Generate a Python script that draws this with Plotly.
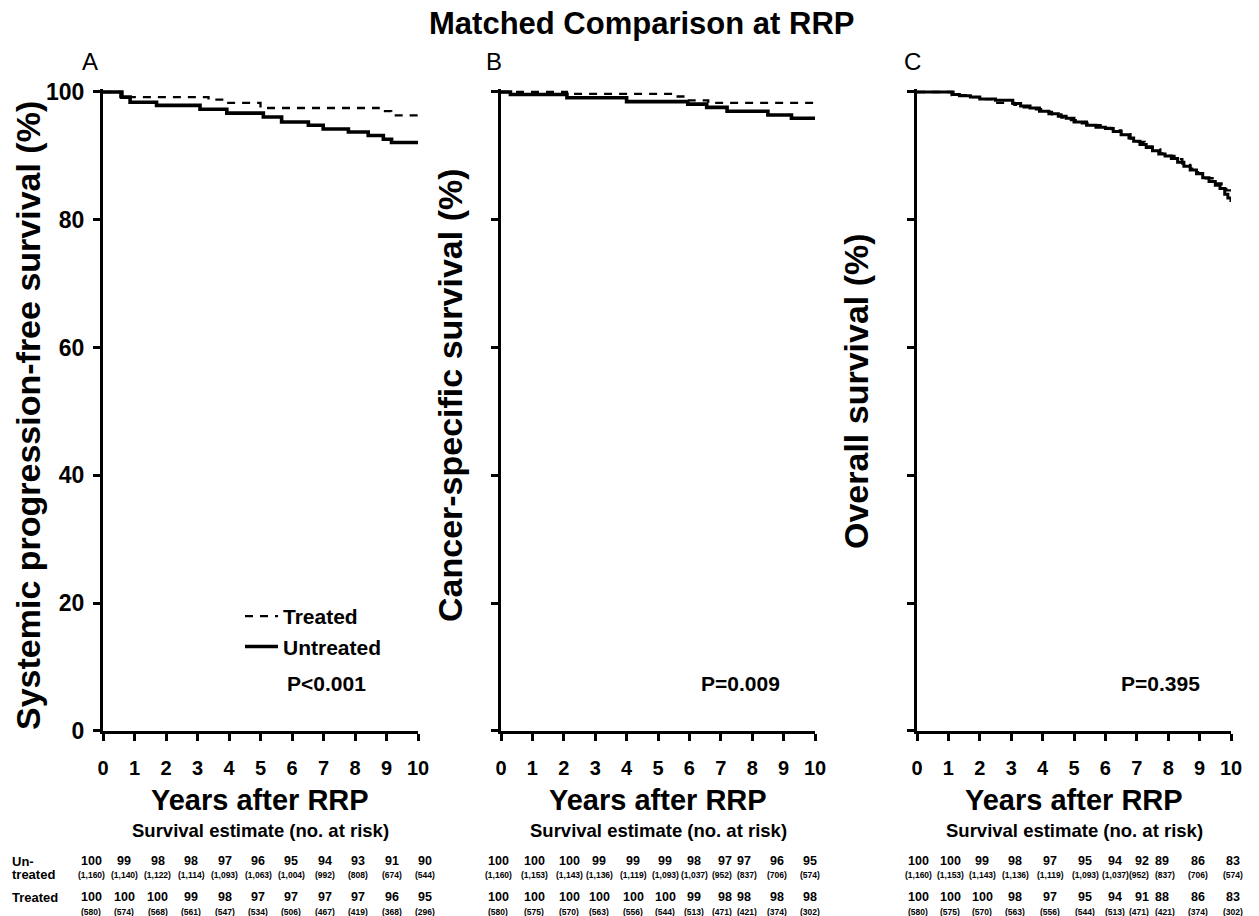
import plotly.graph_objects as go

# ---------------- data ----------------
# Panel A: systemic progression-free survival
A_T_time = [0, 0.55, 3.35, 3.85, 5.0, 8.75, 9.15, 10]
A_T_surv = [100, 99.2, 98.8, 98.3, 97.5, 97.0, 96.35, 96.35]
A_U_time = [0, 0.6, 0.86, 1.7, 3.08, 3.93, 5.09, 5.67, 6.52, 6.99, 7.79, 8.42, 8.9, 9.16, 10]
A_U_surv = [100, 99.2, 98.4, 97.9, 97.3, 96.7, 96.1, 95.3, 94.8, 94.2, 93.75, 93.2, 92.6, 92.1, 92.1]

# Panel B: cancer-specific survival
B_T_time = [0, 2.1, 5.5, 5.95, 6.6, 10]
B_T_surv = [100, 99.7, 99.3, 98.7, 98.3, 98.3]
B_U_time = [0, 0.3, 2.1, 4.0, 5.95, 6.55, 7.2, 8.5, 9.25, 10]
B_U_surv = [100, 99.6, 99.1, 98.5, 98.1, 97.6, 97.0, 96.4, 95.9, 95.9]

# Panel C: overall survival
C_U_time = [0, 1.15, 1.35, 1.7, 2.0, 2.5, 3.05, 3.3, 3.6, 3.9, 4.2, 4.5, 4.75, 5.0, 5.4,
            5.7, 6.0, 6.25, 6.5, 6.75, 6.9, 7.1, 7.3, 7.5, 7.7, 7.9, 8.1, 8.3, 8.5, 8.7,
            8.9, 9.1, 9.3, 9.5, 9.65, 9.8, 9.9, 10.0]
C_U_surv = [100, 99.6, 99.4, 99.2, 98.9, 98.7, 98.2, 97.8, 97.5, 97.0, 96.6, 96.2, 95.9, 95.3, 94.8,
            94.5, 94.3, 93.8, 93.3, 92.8, 92.3, 91.8, 91.3, 90.8, 90.3, 90.0, 89.6, 89.0, 88.4, 87.8,
            87.2, 86.6, 86.0, 85.4, 84.9, 84.0, 83.4, 82.8]
C_T_time = [0, 1.1, 1.6, 2.0, 2.4, 3.1, 3.4, 3.7, 3.95, 4.3, 4.6, 4.9, 5.2, 5.5, 5.9,
            6.2, 6.5, 6.8, 7.0, 7.25, 7.5, 7.75, 8.0, 8.2, 8.45, 8.7, 8.95, 9.2, 9.45, 9.7,
            9.85, 10.0]
C_T_surv = [100, 99.5, 99.2, 98.9, 98.3, 98.0, 97.6, 97.3, 96.9, 96.5, 96.0, 95.6, 95.1, 94.8, 94.4,
            94.0, 93.4, 92.7, 92.2, 91.5, 91.0, 90.4, 90.0, 89.5, 88.8, 88.0, 87.3, 86.5, 85.7, 85.1,
            84.6, 84.2]

# Survival estimate (no. at risk) tables
A_est_U = [100, 99, 98, 98, 97, 96, 95, 94, 93, 91, 90]
A_risk_U = [1160, 1140, 1122, 1114, 1093, 1063, 1004, 992, 808, 674, 544]
A_est_T = [100, 100, 100, 99, 98, 97, 97, 97, 97, 96, 95]
A_risk_T = [580, 574, 568, 561, 547, 534, 506, 467, 419, 368, 296]
B_est_U = [100, 100, 100, 99, 99, 99, 98, 97, 97, 96, 95]
B_risk_U = [1160, 1153, 1143, 1136, 1119, 1093, 1037, 952, 837, 706, 574]
B_est_T = [100, 100, 100, 100, 100, 100, 99, 98, 98, 98, 98]
B_risk_T = [580, 575, 570, 563, 556, 544, 513, 471, 421, 374, 302]
C_est_U = [100, 100, 99, 98, 97, 95, 94, 92, 89, 86, 83]
C_risk_U = [1160, 1153, 1143, 1136, 1119, 1093, 1037, 952, 837, 706, 574]
C_est_T = [100, 100, 100, 98, 97, 95, 94, 91, 88, 86, 83]
C_risk_T = [580, 575, 570, 563, 556, 544, 513, 471, 421, 374, 302]

X_TICKS = list(range(0, 11))
Y_TICKS = [0, 20, 40, 60, 80, 100]

TITLE = "Matched Comparison at RRP"
Y_TITLES = ["Systemic progression-free survival (%)", "Cancer-specific survival (%)", "Overall survival (%)"]
X_TITLE = "Years after RRP"
SUB_TITLE = "Survival estimate (no. at risk)"
PANEL_LABELS = ["A", "B", "C"]
P_VALUES = ["P<0.001", "P=0.009", "P=0.395"]

# ---------------- layout helpers ----------------
W, H = 1259, 916
FONT = "Liberation Sans, Arial, sans-serif"


def px(x):
    return x / W


def py(y):
    return (H - y) / H


Y0, Y100 = 731, 92
YTOP = 100.5
y_dom = [py(Y0), py(Y100 - (YTOP - 100) * (Y0 - Y100) / 100)]
x_doms = [[px(103), px(418)], [px(501), px(815)], [px(917), px(1231)]]

fig = go.Figure()

panels = [
    (A_T_time, A_T_surv, A_U_time, A_U_surv, 3.6),
    (B_T_time, B_T_surv, B_U_time, B_U_surv, 3.6),
    (C_T_time, C_T_surv, C_U_time, C_U_surv, 3.0),
]
for i, (tt, ts, ut, us, uw) in enumerate(panels):
    xa = "x" if i == 0 else f"x{i+1}"
    ya = "y" if i == 0 else f"y{i+1}"
    fig.add_trace(go.Scatter(x=ut, y=us, mode="lines", line=dict(color="black", width=uw, shape="hv"),
                             name="Untreated", legendrank=2, showlegend=(i == 0), legendgroup="u",
                             xaxis=xa, yaxis=ya, hoverinfo="skip"))
    fig.add_trace(go.Scatter(x=tt, y=ts, mode="lines",
                             line=dict(color="black", width=2.3, shape="hv", dash="8px,7px"),
                             name="Treated", legendrank=1, showlegend=(i == 0), legendgroup="t",
                             xaxis=xa, yaxis=ya, hoverinfo="skip"))

axis_common = dict(showline=True, linecolor="black", linewidth=3, ticks="outside", ticklen=7,
                   tickwidth=3, tickcolor="black", showgrid=False, zeroline=False, automargin=False)
layout_axes = {}
for i in range(3):
    sx = "" if i == 0 else str(i + 1)
    layout_axes[f"xaxis{sx}"] = dict(domain=x_doms[i], range=[0, 10], tickvals=X_TICKS,
                                     anchor=f"y{sx}", ticklabelstandoff=10,
                                     tickfont=dict(family=FONT, size=20, color="black", weight="bold"),
                                     **axis_common)
    layout_axes[f"yaxis{sx}"] = dict(domain=y_dom, range=[0, YTOP], tickvals=Y_TICKS,
                                     anchor=f"x{sx}", showticklabels=(i == 0), ticklabelstandoff=4,
                                     tickfont=dict(family=FONT, size=23, color="black", weight="bold"),
                                     **axis_common)

ann = []


def text(x, y, s, size, bold=True, xanchor="center", angle=0):
    ann.append(dict(x=px(x), y=py(y), xref="paper", yref="paper", text=s, showarrow=False,
                    xanchor=xanchor, yanchor="middle", textangle=angle,
                    font=dict(family=FONT, size=size, color="black", weight="bold" if bold else "normal")))


text(641, 24, TITLE, 31)
for lab, x in zip(PANEL_LABELS, [90, 494, 912]):
    text(x, 62, lab, 24, bold=False)
for t, (x, y) in zip(Y_TITLES, [(28, 416), (450, 395), (856, 391)]):
    text(x, y, t, 34, angle=-90)
for x in [260, 658, 1074]:
    text(x, 800, X_TITLE, 29)
    text(x, 830, SUB_TITLE, 18.5)
text(285, 683, P_VALUES[0], 21, xanchor="left")
text(740, 683, P_VALUES[1], 21)
text(1160, 683, P_VALUES[2], 21)

# risk table
text(10, 861, "Un-", 13, xanchor="left")
text(10, 874, "treated", 13, xanchor="left")
text(10, 897, "Treated", 13, xanchor="left")

COLS = [
    [91 + 33.4 * k for k in range(11)],
    [498, 534, 569, 599, 633, 665, 694, 725, 744, 777, 810],
    [918, 950, 982, 1015, 1050, 1085, 1115, 1142, 1162, 1198, 1233],
]
# small horizontal nudges of the bracketed numbers where two columns sit close together
PAREN_NUDGE = [
    [0] * 11,
    [0, 0, 0, 0, 0, 0, 0, -3, 3, 0, 0],
    [0, 0, 0, 0, 0, 0, 0, -3, 3, 0, 0],
]
tables = [(A_est_U, A_risk_U, A_est_T, A_risk_T), (B_est_U, B_risk_U, B_est_T, B_risk_T),
          (C_est_U, C_risk_U, C_est_T, C_risk_T)]
for cols, nudge, (eu, ru, et, rt) in zip(COLS, PAREN_NUDGE, tables):
    for k, x in enumerate(cols):
        text(x, 861, str(eu[k]), 12.5)
        text(x + nudge[k], 875, f"({ru[k]:,})", 8.5)
        text(x, 897, str(et[k]), 12.5)
        text(x + nudge[k], 912, f"({rt[k]:,})", 8.5)

fig.update_layout(
    template="none",
    width=W, height=H, margin=dict(l=0, r=0, t=0, b=0, pad=0), autosize=False,
    paper_bgcolor="white", plot_bgcolor="white",
    annotations=ann,
    legend=dict(x=px(240), y=py(596), xanchor="left", yanchor="top", bgcolor="rgba(0,0,0,0)",
                font=dict(family=FONT, size=21, color="black", weight="bold"),
                itemwidth=33, tracegroupgap=9, traceorder="normal"),
    **layout_axes,
)

fig.write_html(
    "out.html",
    config={"displayModeBar": False},
    post_script="document.body.style.margin='0px';document.body.style.padding='0px';"
                "document.body.style.overflow='hidden';",
)
